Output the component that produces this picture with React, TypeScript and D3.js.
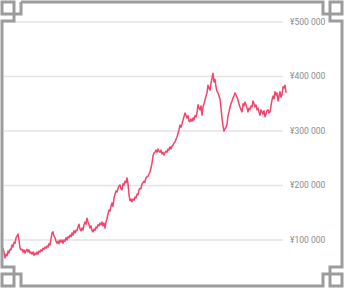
import React from "react";
import * as d3 from "d3";

// weekly closing price, in thousands of yen (one value per week)
const pricesK = [
  85, 78, 67, 74, 71, 80, 76, 83, 82, 91, 87, 96, 94, 104, 107, 111, 100, 85, 82, 83, 78, 82, 76, 80, 83, 78, 82, 76,
  78, 74, 78, 72, 76, 74, 78, 74, 80, 78, 82, 80, 85, 83, 87, 85, 89, 87, 93, 91, 102, 113, 115, 107, 104, 98, 94, 98,
  93, 100, 96, 100, 94, 100, 98, 104, 100, 106, 104, 109, 106, 113, 109, 117, 113, 118, 117, 124, 129, 120, 117, 122,
  118, 128, 133, 129, 140, 133, 128, 122, 126, 117, 115, 120, 118, 124, 122, 128, 126, 131, 128, 133, 126, 131, 122,
  133, 139, 148, 155, 153, 162, 168, 162, 177, 184, 190, 188, 195, 199, 201, 194, 192, 203, 201, 208, 205, 214, 203,
  183, 172, 175, 170, 175, 173, 179, 177, 184, 183, 192, 195, 194, 203, 205, 208, 206, 214, 216, 217, 221, 225, 232,
  241, 254, 260, 261, 265, 261, 267, 263, 261, 265, 258, 261, 256, 260, 263, 261, 267, 265, 271, 267, 272, 274, 278,
  280, 285, 289, 296, 302, 311, 307, 313, 320, 326, 333, 329, 324, 328, 318, 317, 322, 318, 324, 320, 328, 326, 333,
  348, 342, 339, 346, 329, 344, 350, 357, 364, 370, 384, 379, 375, 388, 397, 406, 390, 395, 381, 373, 370, 364, 359,
  342, 324, 309, 300, 304, 307, 313, 328, 335, 344, 350, 355, 361, 364, 370, 366, 362, 357, 350, 344, 339, 335, 350,
  346, 353, 348, 342, 335, 342, 339, 346, 344, 355, 350, 344, 348, 339, 342, 335, 329, 339, 335, 331, 337, 326, 331,
  337, 339, 333, 335, 346, 357, 364, 359, 372, 366, 370, 355, 364, 372, 362, 366, 381, 379, 384, 370,
];

const yTicks = [100000, 200000, 300000, 400000, 500000];
const tickLabels = ["¥100 000", "¥200 000", "¥300 000", "¥400 000", "¥500 000"];

const W = 344;
const H = 288;

export default function App() {
  const n = pricesK.length;
  const x = d3.scaleLinear().domain([0, n - 1]).range([3, 286]);
  const y = d3.scaleLinear().domain([0, 500000]).range([294.5, 22]);
  const line = d3
    .line<number>()
    .x((_, i) => x(i))
    .y((d) => y(d * 1000))
    .curve(d3.curveLinear);

  const a = 2, b = 14, c = 21;
  const border = [
    `M${c},${a}`,
    `H${W - c}`,
    `V${b}H${W - a}V${a}H${W - b}V${c}H${W - a}`,
    `V${H - c}`,
    `H${W - b}V${H - a}H${W - a}V${H - b}H${W - c}V${H - a}`,
    `H${c}`,
    `V${H - b}H${a}V${H - a}H${b}V${H - c}H${a}`,
    `V${c}`,
    `H${b}V${a}H${a}V${b}H${c}V${a}`,
  ].join("");

  return (
    <div style={{ position: "absolute", left: 0, top: 0, width: W, height: H }}>
      <svg width={W} height={H} style={{ display: "block" }}>
        <rect width={W} height={H} fill="#ffffff" />
        {yTicks.map((t) => (
          <line key={t} x1={4} x2={283} y1={y(t)} y2={y(t)} stroke="#e3e3e3" strokeWidth={1.5} />
        ))}
        {yTicks.map((t, i) => (
          <text
            key={"l" + t}
            x={290}
            y={y(t)}
            dy="0.35em"
            fontFamily="Roboto, sans-serif"
            fontSize={8.5}
            fill="#8a8a8a"
          >
            {tickLabels[i]}
          </text>
        ))}
        <path d={line(pricesK) || ""} fill="none" stroke="#f4436c" strokeWidth={1.5} strokeLinejoin="round" />
        <path d={border} fill="none" stroke="#9c9c9c" strokeWidth={3} strokeLinejoin="miter" />
      </svg>
    </div>
  );
}
